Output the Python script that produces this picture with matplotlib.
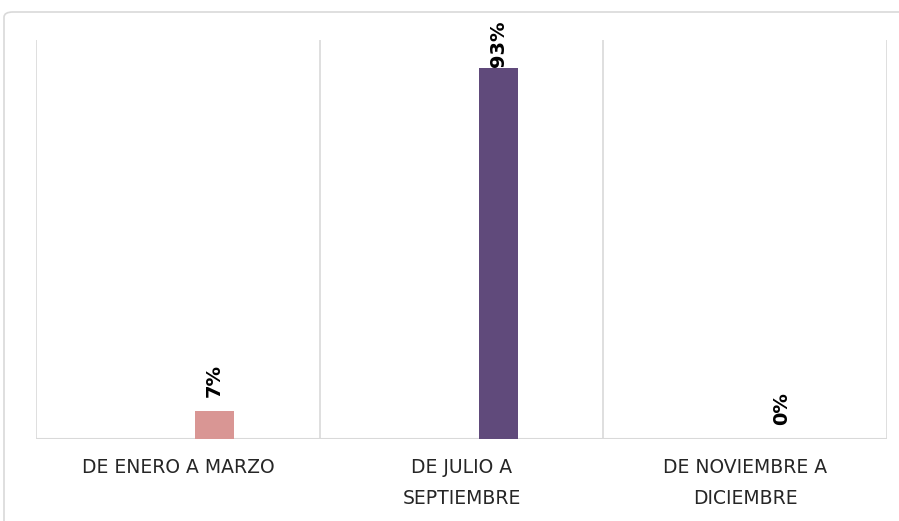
import matplotlib
matplotlib.use("Agg")
import matplotlib.pyplot as plt
from matplotlib.patches import FancyBboxPatch

categories = ["DE ENERO A MARZO", "DE JULIO A\nSEPTIEMBRE", "DE NOVIEMBRE A\nDICIEMBRE"]
values = [0.07, 0.93, 0.00]
labels = ["7%", "93%", "0%"]
colors = ["#D99694", "#604A7B", "#4BACC6"]

W, H = 899, 521
fig = plt.figure(figsize=(W / 100, H / 100), dpi=100)

# outer chart border (partially cropped)
border = FancyBboxPatch((4 / W, -0.05), 1.2, (521 - 12) / H + 0.05,
                        boxstyle="round,pad=0,rounding_size=0.01",
                        transform=fig.transFigure, facecolor="none",
                        edgecolor="#D9D9D9", linewidth=1.2, zorder=-5)
fig.patches.append(border)

ax = fig.add_axes([36 / W, (521 - 439) / H, (887 - 36) / W, (439 - 40) / H])
ax.set_facecolor("none")

x = list(range(len(categories)))
offset = 0.13
width = 0.138
bars = ax.bar([i + offset for i in x], values, width=width, color=colors, zorder=3)

label_pads = [10, 1, 10]
for i, (v, lab) in enumerate(zip(values, labels)):
    ax.annotate(lab, (i + offset, v), xytext=(0, label_pads[i]), textcoords="offset points",
                rotation=90, ha="center", va="bottom", fontsize=14,
                fontweight="bold", color="black", zorder=4)

ax.set_xlim(-0.5, 2.5)
ax.set_ylim(0, 1.0)
for b in [-0.5, 0.5, 1.5, 2.5]:
    ax.axvline(b, color="#D9D9D9", linewidth=1.2, zorder=1)
ax.axhline(0, color="#D9D9D9", linewidth=1.5, zorder=2)

for s in ax.spines.values():
    s.set_visible(False)
ax.set_yticks([])
ax.set_xticks(x)
ax.set_xticklabels(categories, fontsize=13.5, color="#262626", linespacing=1.75)
ax.tick_params(axis="x", length=0, pad=14)

fig.savefig("out.png", dpi=100)
